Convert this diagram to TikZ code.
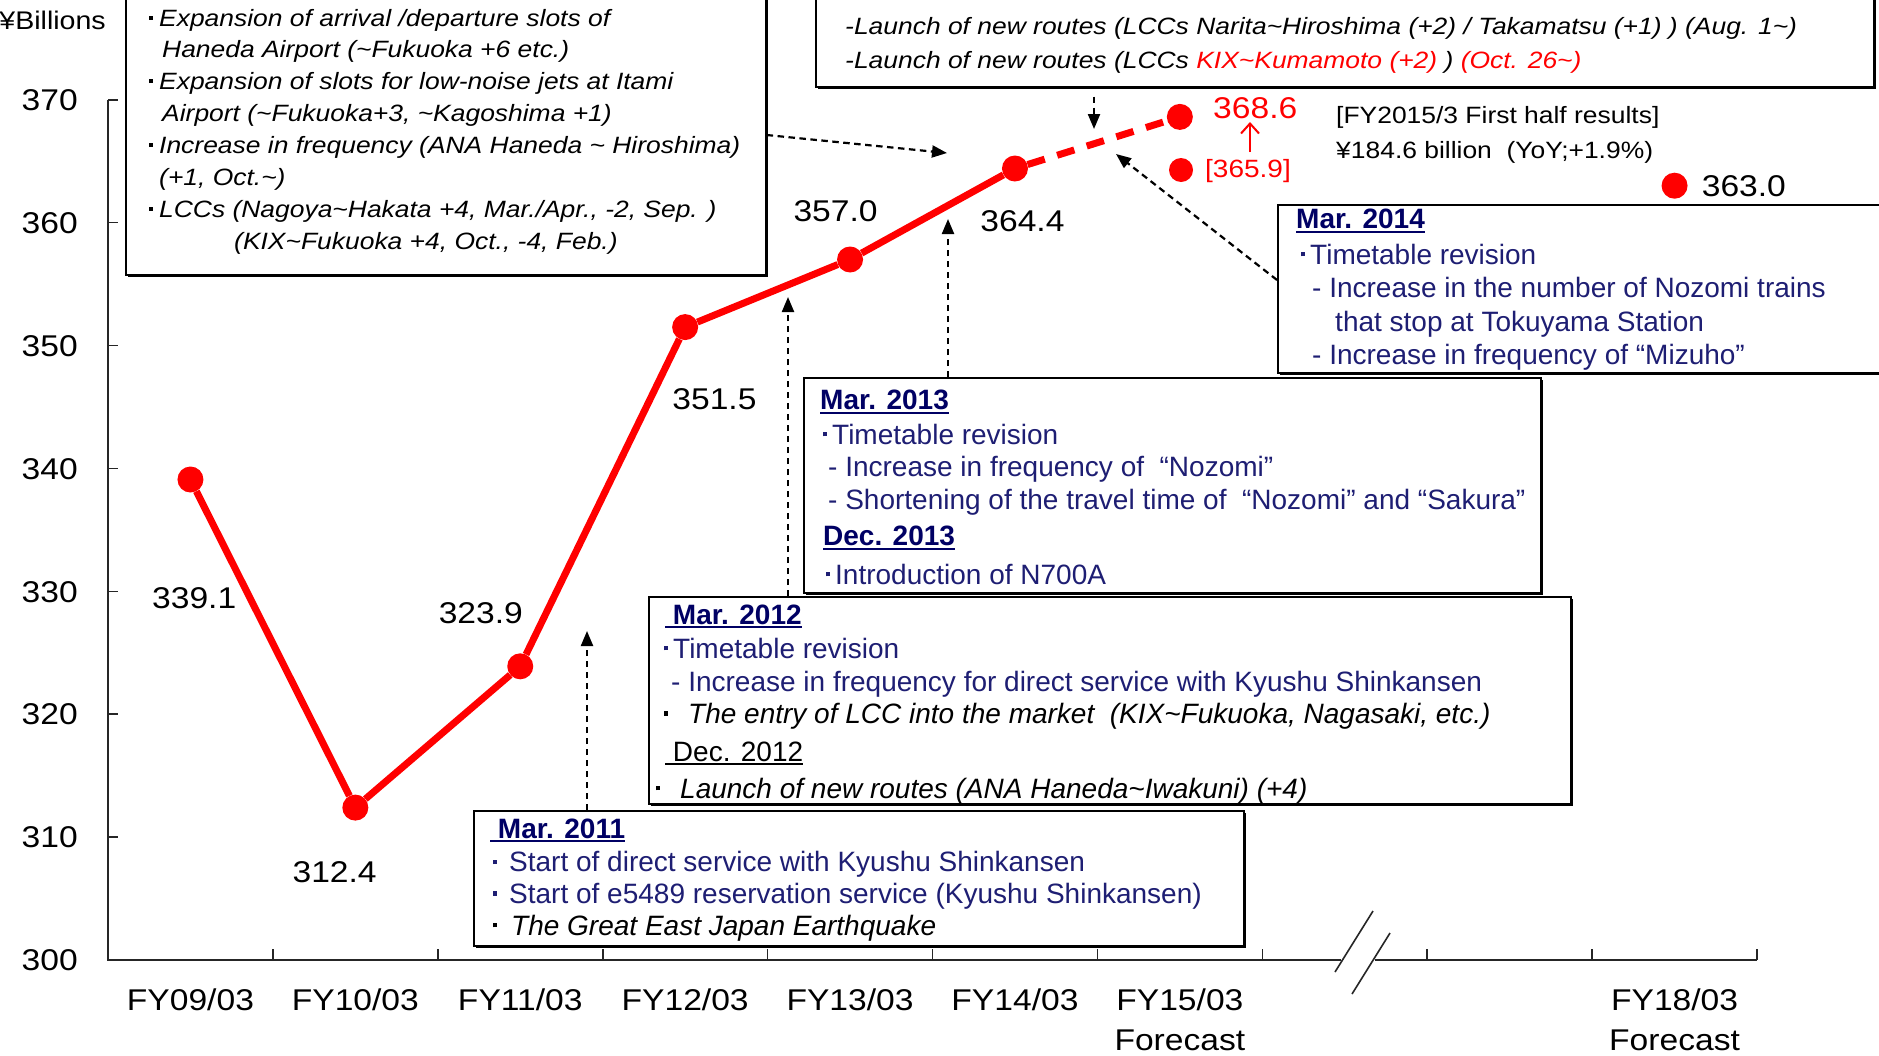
\documentclass[tikz,border=0pt]{standalone}
\usepackage{fontspec}
\setmainfont{Liberation Sans}
\newfontfamily\cf{Liberation Sans}[FakeStretch=1.12]
\usetikzlibrary{arrows.meta,shadows}
\definecolor{navyh}{RGB}{0,0,100}
\definecolor{navyb}{RGB}{30,30,115}
\definecolor{rd}{RGB}{255,0,0}
\newcommand\tld{\textasciitilde}
\newcommand\bu[1]{\llap{\raisebox{0.27em}{\rule{0.16em}{0.16em}}\hspace{#1pt}}}
\newcommand\myul[1]{\setbox0\hbox{#1}\rlap{\rule[-4pt]{\wd0}{2pt}}\box0}
\begin{document}
\begin{tikzpicture}[x=1pt,y=-1pt,
  axis/.style={line width=1.6pt, draw=black!85},
  redline/.style={draw=rd, line width=7pt},
  rdot/.style={circle, fill=rd, minimum size=26pt, inner sep=0pt},
  num/.style={font=\cf\fontsize{30}{36}\selectfont, inner sep=0pt, anchor=base west},
  ylab/.style={font=\cf\fontsize{30}{36}\selectfont, inner sep=0pt, anchor=base east},
  xlab/.style={font=\cf\fontsize{30}{36}\selectfont, inner sep=0pt, anchor=base},
  infobox/.style={draw=black, line width=1.6pt, fill=white, inner sep=0pt, anchor=north west,
     general shadow={fill=black, shadow xshift=2.5pt, shadow yshift=-2.5pt}},
  it/.style={font=\cf\itshape\fontsize{23.6}{30}\selectfont, inner sep=0pt, anchor=base west},
  bt/.style={font=\fontsize{28}{33}\selectfont, text=navyb, inner sep=0pt, anchor=base west},
  hd/.style={font=\bfseries\fontsize{28}{33}\selectfont, text=navyh, inner sep=0pt, anchor=base west},
  blk/.style={font=\itshape\fontsize{28}{33}\selectfont, text=black, inner sep=0pt, anchor=base west},
  darr/.style={draw=black, line width=2.2pt, dash pattern=on 6.5pt off 4.5pt, -{Triangle[length=15pt,width=12pt]}},
]
\useasboundingbox (0,0) rectangle (1879,1055);
\clip (0,0) rectangle (1879,1055);
\fill[white] (0,0) rectangle (1879,1055);

% ---------- axes ----------
\draw[axis] (108,99.7) -- (108,960) -- (1341,960);
\draw[axis] (1375,960) -- (1757,960);
\foreach \v in {310,320,...,370} {\draw[axis] (108,{960-(\v-300)*12.29}) -- ++(10,0);}
\foreach \k in {1,...,10} {\draw[axis] ({108+164.9*\k},960) -- ++(0,-11);}
\draw[axis] (1373,911) -- (1335,972);
\draw[axis] (1390,933) -- (1352,994);
\foreach \v in {300,310,...,370} {\node[ylab] (y\v) at (78,{960-(\v-300)*12.29+10.7}) {\v};}
\node[anchor=base east, font=\cf\fontsize{25.5}{30}\selectfont, inner sep=0pt] (ybil) at (106,29) {¥Billions};
\foreach \i/\t in {0/09,1/10,2/11,3/12,4/13,5/14,6/15,9/18}
  {\node[xlab] (x\t) at ({108+164.9*(\i+0.5)},1010) {FY\t/03};}
\node[xlab] (f15) at (1179.85,1050.5) {Forecast};
\node[xlab] (f18) at (1674.55,1050.5) {Forecast};

% ---------- data ----------
\node[rdot] (p1) at (190.45,479.5) {};
\node[rdot] (p2) at (355.35,807.6) {};
\node[rdot] (p3) at (520.25,666.3) {};
\node[rdot] (p4) at (685.15,327.1) {};
\node[rdot] (p5) at (850.05,259.5) {};
\node[rdot] (p6) at (1014.95,168.5) {};
\node[rdot] (p7) at (1179.85,116.9) {};
\node[rdot, minimum size=24pt] (p8) at (1181,170) {};
\node[rdot] (p9) at (1674.55,185.7) {};
\draw[redline] (p1) -- (p2) -- (p3) -- (p4) -- (p5) -- (p6);
\draw[redline, dash pattern=on 18pt off 13pt] (p6) -- (p7);

\node[num] (v1) at (152,608.7) {339.1};
\node[num] (v2) at (292.4,882) {312.4};
\node[num] (v3) at (438.6,623) {323.9};
\node[num] (v4) at (672.2,409.7) {351.5};
\node[num] (v5) at (793.3,221.6) {357.0};
\node[num] (v6) at (980.2,231) {364.4};
\node[num, text=rd] (v7) at (1213,118.3) {368.6};
\node[num, text=rd, font=\cf\fontsize{25}{30}\selectfont] (v8) at (1205,177.3) {[365.9]};
\node[num] (v9) at (1701.6,196.4) {363.0};
\coordinate (ra1) at (1250,152);
\coordinate (ra2) at (1250,122);
\draw[draw=rd, line width=2pt, -{Straight Barb[length=10pt,width=18pt]}] (ra1) -- (ra2);

\node[it, font=\cf\fontsize{23.6}{30}\selectfont] (fyh) at (1336,123.5) {[FY2015/3 First half results]};
\node[it, font=\cf\fontsize{23.6}{30}\selectfont] (fyv) at (1336,158.5) {¥184.6 billion\ \ (YoY;+1.9\%)};

% ---------- boxes ----------
\node[infobox, minimum width=640pt, minimum height=294pt] (tl) at (125,-20) {};
\node[infobox, minimum width=1058pt, minimum height=106pt] (tr) at (815,-20) {};
\node[infobox, minimum width=700pt, minimum height=168pt] (m14) at (1277,204) {};
\node[infobox, minimum width=737pt, minimum height=215pt] (m13) at (803,377) {};
\node[infobox, minimum width=922pt, minimum height=207pt] (m12) at (648,596) {};
\node[infobox, minimum width=770pt, minimum height=135pt] (m11) at (473,810) {};

% ---------- arrows ----------
\coordinate (a1t) at (0,135);
\coordinate (a1h) at (947,153);
\draw[darr] (tl.east |- a1t) -- (a1h);
\coordinate (a2h) at (1094,129);
\draw[darr, shorten <=9pt] (tr.south -| a2h) -- (a2h);
\coordinate (a3t) at (0,280);
\coordinate (a3h) at (1116,154);
\draw[darr] (m14.west |- a3t) -- (a3h);
\coordinate (a4h) at (948,219);
\draw[darr] (m13.north -| a4h) -- (a4h);
\coordinate (a5h) at (788,297);
\draw[darr] (m12.north -| a5h) -- (a5h);
\coordinate (a6h) at (587,631);
\draw[darr] (m11.north -| a6h) -- (a6h);

% ---------- top-left box text ----------
\node[it] (tl1) at (159,26) {\bu{6}Expansion of arrival /departure slots of};
\node[it] (tl2) at (162,57.5) {Haneda Airport (\tld Fukuoka +6 etc.)};
\node[it] (tl3) at (159,89.5) {\bu{6}Expansion of slots for low-noise jets at Itami};
\node[it] (tl4) at (162,121) {Airport (\tld Fukuoka+3, \tld Kagoshima +1)};
\node[it] (tl5) at (159,153) {\bu{6}Increase in frequency (ANA Haneda \tld{} Hiroshima)};
\node[it] (tl6) at (159,185) {(+1, Oct.\tld)};
\node[it] (tl7) at (159,217) {\bu{6}LCCs (Nagoya\tld Hakata +4, Mar./Apr., -2, Sep. )};
\node[it] (tl8) at (234,249) {(KIX\tld Fukuoka +4, Oct., -4, Feb.)};

% ---------- top-right box text ----------
\node[it] (tr2) at (845,34) {-Launch of new routes (LCCs Narita\tld Hiroshima (+2) / Takamatsu (+1) ) (Aug. 1\tld)};
\node[it] (tr3) at (845,68.5) {-Launch of new routes (LCCs {\color{rd}KIX\tld Kumamoto (+2)} ) {\color{rd}(Oct. 26\tld)}};

% ---------- Mar. 2014 ----------
\node[hd] (m14a) at (1296,228.5) {\myul{Mar. 2014}};
\node[bt] (m14b) at (1310,264) {\bu{5}Timetable revision};
\node[bt] (m14c) at (1312,297.5) {- Increase in the number of Nozomi trains};
\node[bt] (m14d) at (1335,331) {that stop at Tokuyama Station};
\node[bt] (m14e) at (1312,364.5) {- Increase in frequency of “Mizuho”};

% ---------- Mar. 2013 ----------
\node[hd] (m13a) at (820,409.5) {\myul{Mar. 2013}};
\node[bt] (m13b) at (832,444) {\bu{5}Timetable revision};
\node[bt] (m13c) at (828,476.5) {- Increase in frequency of\ \ “Nozomi”};
\node[bt] (m13d) at (828,509.5) {- Shortening of the travel time of\ \ “Nozomi” and “Sakura”};
\node[hd] (m13e) at (823,545.5) {\myul{Dec. 2013}};
\node[bt] (m13f) at (835,584) {\bu{5}Introduction of N700A};

% ---------- Mar. 2012 ----------
\node[hd] (m12a) at (665,624) {\myul{\ Mar. 2012}};
\node[bt] (m12b) at (673,658) {\bu{5}Timetable revision};
\node[bt] (m12c) at (671,691) {- Increase in frequency for direct service with Kyushu Shinkansen};
\node[blk] (m12d) at (688,723.5) {\bu{20}The entry of LCC into the market\ \ (KIX\tld Fukuoka, Nagasaki, etc.)};
\node[bt, text=black] (m12e) at (665,761) {\myul{\ Dec. 2012}};
\node[blk] (m12f) at (680,798) {\bu{20}Launch of new routes (ANA Haneda\tld Iwakuni) (+4)};

% ---------- Mar. 2011 ----------
\node[hd] (m11a) at (490,838) {\myul{\ Mar. 2011}};
\node[bt] (m11b) at (509,871.7) {\bu{12}Start of direct service with Kyushu Shinkansen};
\node[bt] (m11c) at (509,903.5) {\bu{12}Start of e5489 reservation service (Kyushu Shinkansen)};
\node[blk] (m11d) at (511,935) {\bu{14}The Great East Japan Earthquake};
\end{tikzpicture}
\end{document}
